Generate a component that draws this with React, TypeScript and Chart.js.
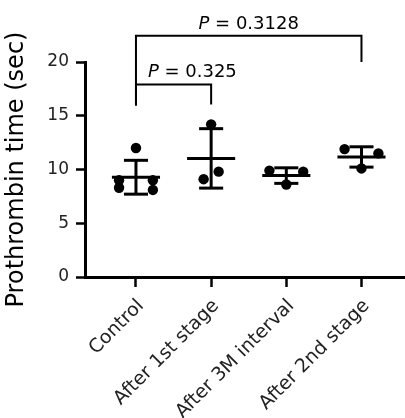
import React, { useEffect, useRef } from "react";
import { Chart, registerables } from "chart.js";

Chart.register(...registerables);

// ---- data ----
const categories = ["Control", "After 1st stage", "After 3M interval", "After 2nd stage"];
const controlValues = [12, 9, 9, 8.3, 8.1];
const firstStageValues = [14.2, 9.1, 9.8];
const intervalValues = [9.9, 9.8, 8.6];
const secondStageValues = [11.9, 11.5, 10.1];
const groups = [controlValues, firstStageValues, intervalValues, secondStageValues];

const yTicks = [0, 5, 10, 15, 20];
const yTitle = "Prothrombin time (sec)";

// significance brackets (category index / value units)
const bracketFrom = [0, 0];
const bracketTo = [1, 3];
const bracketTop = [17.9, 22.45];
const bracketLeftEnd = [15.95, 15.95];
const bracketRightEnd = [16.05, 20.0];
const pValues = ["0.325", "0.3128"];
const pLabelX = [0.75, 1.5];
const pLabelY = [18.65, 23.1];

const FONT = "'DejaVu Sans', 'Liberation Sans', Arial, sans-serif";
const SPREAD = 0.45;
const NUDGE = 0.1;

function mean(a: number[]) {
  return a.reduce((s, v) => s + v, 0) / a.length;
}
function sd(a: number[]) {
  const m = mean(a);
  return Math.sqrt(a.reduce((s, v) => s + (v - m) * (v - m), 0) / (a.length - 1));
}
// simple scatter-dot spreading: equal rows spread side by side,
// overlapping singletons nudged apart
function spread(vals: number[]) {
  const rows = new Map<number, number[]>();
  vals.forEach((v, i) => {
    const r = Math.round(v);
    if (!rows.has(r)) rows.set(r, []);
    rows.get(r)!.push(i);
  });
  const off = new Array(vals.length).fill(0);
  rows.forEach((idx) => idx.forEach((i, k) => (off[i] = (k - (idx.length - 1) / 2) * SPREAD)));
  for (let a = 0; a < vals.length; a++) {
    for (let b = a + 1; b < vals.length; b++) {
      if (off[a] === 0 && off[b] === 0 && Math.abs(vals[a] - vals[b]) < 0.93) {
        const lo = vals[a] < vals[b] ? a : b;
        const hi = lo === a ? b : a;
        off[lo] = -NUDGE;
        off[hi] = NUDGE;
      }
    }
  }
  return off;
}

const errorBarPlugin = {
  id: "errorBars",
  afterDatasetsDraw(chart: any) {
    const { ctx, scales } = chart;
    const xs = scales.x;
    const ys = scales.y;
    ctx.save();
    ctx.strokeStyle = "#000";
    ctx.lineWidth = 3;
    ctx.lineCap = "butt";
    groups.forEach((g, i) => {
      const m = mean(g);
      const s = sd(g);
      const line = (x1: number, y1: number, x2: number, y2: number) => {
        ctx.beginPath();
        ctx.moveTo(xs.getPixelForValue(x1), ys.getPixelForValue(y1));
        ctx.lineTo(xs.getPixelForValue(x2), ys.getPixelForValue(y2));
        ctx.stroke();
      };
      line(i - 0.32, m, i + 0.32, m);
      line(i, m - s, i, m + s);
      line(i - 0.16, m + s, i + 0.16, m + s);
      line(i - 0.16, m - s, i + 0.16, m - s);
    });
    ctx.restore();
  },
};

const bracketPlugin = {
  id: "brackets",
  afterDraw(chart: any) {
    const { ctx, scales } = chart;
    const xs = scales.x;
    const ys = scales.y;
    ctx.save();
    ctx.strokeStyle = "#000";
    ctx.lineWidth = 2;
    bracketFrom.forEach((f, i) => {
      const x1 = xs.getPixelForValue(f);
      const x2 = xs.getPixelForValue(bracketTo[i]);
      ctx.beginPath();
      ctx.moveTo(x1, ys.getPixelForValue(bracketLeftEnd[i]));
      ctx.lineTo(x1, ys.getPixelForValue(bracketTop[i]));
      ctx.lineTo(x2, ys.getPixelForValue(bracketTop[i]));
      ctx.lineTo(x2, ys.getPixelForValue(bracketRightEnd[i]));
      ctx.stroke();

      const italic = `italic 18px ${FONT}`;
      const normal = `18px ${FONT}`;
      const rest = " = " + pValues[i];
      ctx.font = italic;
      const wP = ctx.measureText("P").width;
      ctx.font = normal;
      const wR = ctx.measureText(rest).width;
      const cx = xs.getPixelForValue(pLabelX[i]);
      const by = ys.getPixelForValue(pLabelY[i]);
      const start = cx - (wP + wR) / 2;
      ctx.fillStyle = "#000";
      ctx.textBaseline = "alphabetic";
      ctx.textAlign = "left";
      ctx.font = italic;
      ctx.fillText("P", start, by);
      ctx.font = normal;
      ctx.fillText(rest, start + wP, by);
    });
    ctx.restore();
  },
};

export default function App() {
  const ref = useRef<HTMLCanvasElement>(null);
  useEffect(() => {
    if (!ref.current) return;
    const points: { x: number; y: number }[] = [];
    groups.forEach((g, i) => {
      const off = spread(g);
      g.forEach((v, k) => points.push({ x: i + off[k], y: v }));
    });
    const chart = new Chart(ref.current, {
      type: "scatter",
      data: {
        datasets: [
          {
            data: points,
            pointRadius: 5.2,
            pointHoverRadius: 5.2,
            backgroundColor: "#000",
            borderWidth: 0,
          },
        ],
      },
      plugins: [errorBarPlugin, bracketPlugin],
      options: {
        animation: false,
        responsive: false,
        devicePixelRatio: 1,
        layout: { autoPadding: false, padding: { top: 62, left: 0, right: 0, bottom: 0 } },
        plugins: { legend: { display: false }, tooltip: { enabled: false } },
        scales: {
          x: {
            type: "linear",
            min: -0.678,
            max: 3.579,
            afterBuildTicks: (scale: any) => {
              scale.ticks = categories.map((_, i) => ({ value: i }));
            },
            afterFit: (scale: any) => {
              scale.height = 141;
              scale.paddingLeft = 0;
              scale.paddingRight = 0;
            },
            ticks: {
              autoSkip: false,
              minRotation: 45,
              maxRotation: 45,
              padding: 8,
              labelOffset: 5,
              color: "#222",
              font: { family: FONT, size: 19 },
              callback: (v: any) => categories[v as number] ?? "",
            },
            grid: {
              drawOnChartArea: false,
              drawTicks: true,
              tickLength: 10,
              tickWidth: 2.5,
              tickColor: "#000",
            },
            border: { display: true, color: "#000", width: 3 },
          },
          y: {
            type: "linear",
            min: 0,
            max: 20,
            afterBuildTicks: (scale: any) => {
              scale.ticks = yTicks.map((v) => ({ value: v }));
            },
            afterFit: (scale: any) => {
              scale.width = 85;
            },
            ticks: {
              padding: 7,
              color: "#222",
              font: { family: FONT, size: 17 },
            },
            grid: {
              drawOnChartArea: false,
              drawTicks: true,
              tickLength: 9,
              tickWidth: 2.5,
              tickColor: "#000",
            },
            border: { display: true, color: "#000", width: 3 },
            title: {
              display: true,
              text: yTitle,
              color: "#000",
              font: { family: FONT, size: 24 },
              padding: { top: 2, bottom: 0 },
            },
          },
        },
      },
    });
    return () => chart.destroy();
  }, []);
  return (
    <div style={{ position: "absolute", left: 0, top: 0, width: 405, height: 418, background: "#fff" }}>
      <canvas ref={ref} width={405} height={418} style={{ width: 405, height: 418, display: "block" }} />
    </div>
  );
}
